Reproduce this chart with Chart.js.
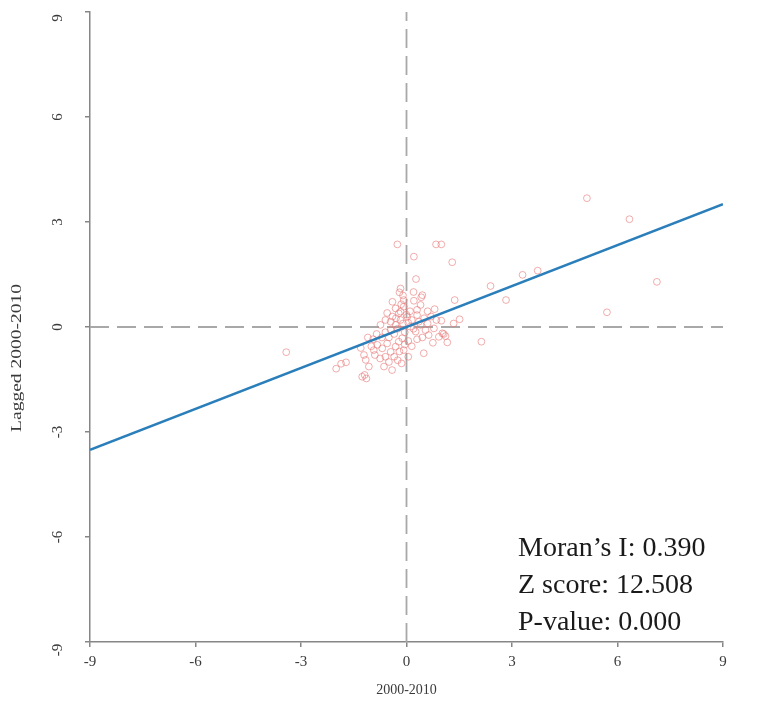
<!DOCTYPE html>
<html>
<head>
<meta charset="utf-8">
<title>Moran scatterplot 2000-2010</title>
<script src="https://cdn.jsdelivr.net/npm/chart.js@4.4.0/dist/chart.umd.min.js"></script>
<style>
  html, body { margin: 0; padding: 0; background: #fff; }
  #moranChart { display: block; }
</style>
</head>
<body>
<canvas id="moranChart" width="779" height="711"></canvas>
<script>
// standardized values (x) and their spatial lag (y)
const valueX = [
  -3.42, -2.00, -1.86, -1.72, -1.21, -1.16, -1.19, -1.14, -1.07, -1.26,
  -0.64, -0.41, -0.14, 0.49, 1.16, 2.13, -0.26, 0.84, 0.99, 0.21,
  1.30, 0.27, 2.39, -0.17, -0.20, 0.45, 0.42, 1.37, 0.80, 1.51,
  0.99, 1.34, 1.06, 1.11, 5.13, 6.34, 7.12, 5.70, 3.30, 3.73,
  2.83, -0.93, -0.83, -0.69, -0.55, -0.45, -0.31, -0.22, -0.12, -0.08,
  -0.45, -0.31, -0.17, 0.02, 0.11, 0.26, 0.40, 0.54, 0.63, 0.78,
  0.92, 1.02, -0.74, -0.60, -0.22, 0.30, -0.40, -0.08, 0.21, -0.31,
  -0.17, -0.08, 0.30, 0.40, -0.95, -0.85, -0.70, -0.60, -0.50, -0.35,
  -0.25, -0.10, -0.05, 0.05, 0.15, 0.20, 0.35, 0.50, 0.60, 0.70,
  -0.40, -0.30, -0.55, -0.15, 0.10, 0.05, -0.20, -0.60, -0.75, -0.90,
  -1.00, -0.35, 0.15, 0.30, -0.05, 0.60, 0.85, -1.30, -1.10, 0.20,
  -0.10, 0.00, -0.45, 0.45, 0.75, -0.25, 0.05, -0.50
];
const laggedY = [
  -0.72, -1.19, -1.05, -1.01, -0.80, -0.94, -1.37, -1.47, -1.13, -1.42,
  -1.13, -1.23, -1.04, -0.75, -0.44, -0.42, 2.36, 2.36, 2.36, 2.01,
  1.85, 1.37, 1.17, 1.10, 0.99, 0.91, 0.85, 0.77, 0.51, 0.22,
  0.18, 0.10, -0.20, -0.26, 3.68, 3.08, 1.29, 0.42, 1.49, 1.61,
  0.77, -0.66, -0.51, -0.61, -0.47, -0.71, -0.56, -0.42, -0.32, -0.66,
  -0.09, 0.06, 0.20, 0.29, 0.01, -0.13, 0.06, -0.09, -0.23, -0.04,
  -0.28, -0.18, 0.06, 0.20, 0.39, 0.34, 0.72, 0.77, 0.75, 0.53,
  0.44, 0.58, 0.49, 0.63, -0.35, -0.20, -0.30, -0.15, -0.30, -0.20,
  -0.05, 0.10, -0.15, 0.12, 0.20, -0.05, 0.15, 0.25, 0.10, 0.30,
  0.30, 0.25, 0.40, 0.65, 0.45, -0.40, -0.70, -0.85, -0.90, -0.80,
  -0.55, -0.85, -0.55, -0.35, -0.50, 0.45, 0.20, -0.60, -0.30, 1.00,
  0.90, 0.35, 0.15, -0.30, -0.45, -0.95, -0.85, -1.00
];

const axisTicks = [-9, -6, -3, 0, 3, 6, 9];
const statLines = ['Moran\u2019s I: 0.390', 'Z score: 12.508', 'P-value: 0.000'];
const moransI = 0.390;

const axisMin = axisTicks[0];
const axisMax = axisTicks[axisTicks.length - 1];
const serif = "'Liberation Serif', 'Times New Roman', serif";

const points = valueX.map((x, i) => ({ x: x, y: laggedY[i] }));

// fitted line through the origin with slope = Moran's I
const fitLine = [
  { x: axisMin, y: moransI * axisMin },
  { x: axisMax, y: moransI * axisMax }
];

// titles, rotated y tick labels and the statistics box
const labelsPlugin = {
  id: 'labelsPlugin',
  afterDraw(chart) {
    const ctx = chart.ctx;
    const yScale = chart.scales.y;
    const xScale = chart.scales.x;
    ctx.save();
    ctx.fillStyle = '#3a3a3a';
    ctx.textAlign = 'center';
    ctx.textBaseline = 'middle';

    ctx.font = '15px ' + serif;
    axisTicks.forEach(v => {
      let py = yScale.getPixelForValue(v);
      if (v === axisMax) py += 6;
      if (v === axisMin) py += 8;
      ctx.save();
      ctx.translate(58, py);
      ctx.rotate(-Math.PI / 2);
      ctx.fillText(String(v), 0, 0);
      ctx.restore();
    });

    // y title is drawn a bit stretched along its length
    ctx.save();
    ctx.translate(17, 358);
    ctx.rotate(-Math.PI / 2);
    ctx.scale(1.3, 1);
    ctx.fillText('Lagged 2000-2010', 0, 0);
    ctx.restore();

    ctx.font = '14px ' + serif;
    ctx.fillText('2000-2010', xScale.getPixelForValue(0), 690);

    ctx.fillStyle = '#1a1a1a';
    ctx.font = '28px ' + serif;
    ctx.textAlign = 'left';
    ctx.textBaseline = 'alphabetic';
    statLines.forEach((line, i) => {
      ctx.fillText(line, 518, 556 + i * 37);
    });
    ctx.restore();
  }
};

const axisStyle = (min, max) => ({
  type: 'linear',
  min: min,
  max: max,
  grid: {
    drawOnChartArea: false,
    drawTicks: true,
    tickLength: 5,
    color: '#868686',
    lineWidth: 1.5
  },
  border: { display: true, color: '#868686', width: 1.5 }
});

const xAxis = axisStyle(axisMin, axisMax);
xAxis.ticks = {
  stepSize: 3,
  color: '#3a3a3a',
  padding: 6,
  maxRotation: 0,
  font: { family: serif, size: 15 }
};
xAxis.afterFit = scale => { scale.height = 69; };

const yAxis = axisStyle(axisMin, axisMax);
yAxis.ticks = { stepSize: 3, display: false };
yAxis.afterFit = scale => { scale.width = 90; };

new Chart(document.getElementById('moranChart'), {
  type: 'scatter',
  data: {
    datasets: [
      {
        label: 'Fit',
        type: 'line',
        data: fitLine,
        borderColor: '#2a7eba',
        borderWidth: 2.6,
        pointRadius: 0,
        fill: false,
        order: 0
      },
      {
        label: 'Observations',
        data: points,
        pointStyle: 'circle',
        pointRadius: 3.4,
        backgroundColor: 'rgba(255,255,255,0)',
        borderColor: 'rgba(232,118,118,0.6)',
        borderWidth: 1,
        order: 1
      },
      {
        label: 'x = 0',
        type: 'line',
        data: [{ x: 0, y: axisMin }, { x: 0, y: axisMax }],
        borderColor: '#a8a8a8',
        borderWidth: 1.8,
        borderDash: [19, 8],
        pointRadius: 0,
        order: 2
      },
      {
        label: 'y = 0',
        type: 'line',
        data: [{ x: axisMin, y: 0 }, { x: axisMax, y: 0 }],
        borderColor: '#a8a8a8',
        borderWidth: 1.8,
        borderDash: [19, 8],
        pointRadius: 0,
        order: 2
      }
    ]
  },
  options: {
    responsive: false,
    animation: false,
    layout: { padding: { left: 0, top: 12, right: 56, bottom: 0 } },
    scales: { x: xAxis, y: yAxis },
    plugins: {
      legend: { display: false },
      tooltip: { enabled: false }
    }
  },
  plugins: [labelsPlugin]
});
</script>
</body>
</html>
